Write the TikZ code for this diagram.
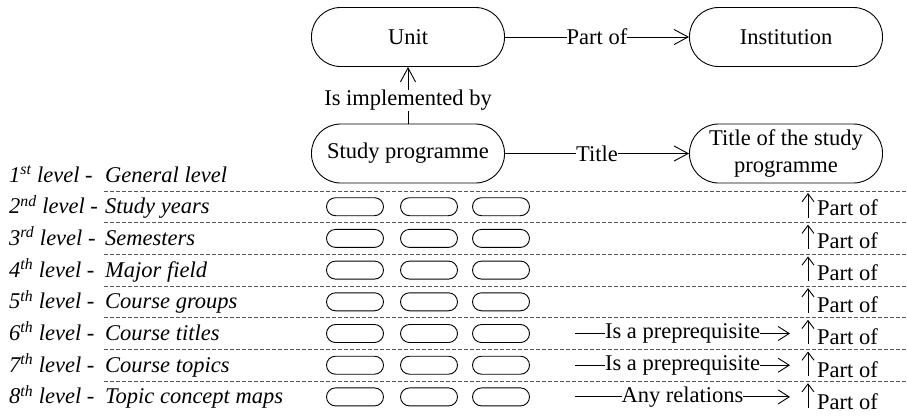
\documentclass[tikz,border=0pt]{standalone}
\usepackage{fontspec}
\setmainfont{Liberation Serif}
\usetikzlibrary{arrows.meta, positioning, calc}
\newcommand{\bigfont}{\fontsize{22.5}{26.5}\selectfont}

\tikzset{
  concept/.style={draw, rectangle, rounded corners=29pt, minimum width=193pt, minimum height=59pt, line width=0.9pt, align=center, inner sep=2pt, font=\bigfont},
  pill/.style={draw, rectangle, rounded corners=9pt, minimum width=57pt, minimum height=18pt, line width=0.9pt},
  rel/.style={line width=0.9pt, -{Straight Barb[length=14pt,width=15pt]}},
  rowrel/.style={line width=0.9pt, -{Straight Barb[length=11pt,width=14pt]}},
  uprel/.style={line width=0.9pt, -{Straight Barb[length=8pt,width=12pt]}},
  rellabel/.style={fill=white, inner sep=0pt, font=\bigfont},
  levelline/.style={dash pattern=on 4pt off 2pt, gray!70!black, line width=0.9pt},
  leveltext/.style={anchor=base west, inner sep=0pt, font=\bigfont\itshape},
  partlabel/.style={anchor=base west, inner sep=0pt, font=\bigfont}
}

\begin{document}
\begin{tikzpicture}[x=1pt, y=-1pt]
  \useasboundingbox (0,0) rectangle (907,416);
  % general level concepts
  \node[concept] (unit) at (408,37) {Unit};
  \node[concept] (inst) at (786,37) {Institution};
  \node[concept] (prog) at (408,153.5) {Study programme};
  \node[concept] (ptitle) at (786,153.5) {Title of the study\\programme};
  \draw[rel] (unit) -- node[rellabel] {Part of} (inst);
  \draw[rel] (prog) -- node[rellabel, pos=0.41] {Is implemented by} (unit);
  \draw[rel] (prog) -- node[rellabel] {Title} (ptitle);

  % level names
  \foreach \r/\sfx/\lname in {1/st/General level, 2/nd/Study years, 3/rd/Semesters, 4/th/Major field, 5/th/Course groups, 6/th/Course titles, 7/th/Course topics, 8/th/Topic concept maps}{
    \pgfmathsetmacro{\yb}{182+31.7*(\r-1)}
    \node[leveltext] (lv\r) at (9,\yb) {\r\textsuperscript{\sfx} level -};
    \node[leveltext] (ln\r) at (105,\yb) {\lname};
  }

  % level separators
  \foreach \r in {1,...,7}{
    \pgfmathsetmacro{\yd}{191+31.7*(\r-1)}
    \coordinate (dl\r) at (104,\yd);
    \coordinate (dr\r) at (907,\yd);
    \draw[levelline] (dl\r) -- (dr\r);
  }

  % concepts of the lower levels
  \foreach \r in {2,...,8}{
    \pgfmathsetmacro{\yc}{182+31.7*(\r-1)-7}
    \foreach \c/\xc in {1/355, 2/429, 3/501}
      \node[pill] (p\r-\c) at (\xc,\yc) {};
    \pgfmathsetmacro{\ya}{191+31.7*(\r-2)}
    \coordinate (pa\r) at (808,\ya+26.5);
    \coordinate (pb\r) at (808,\ya+2);
    \draw[uprel] (pa\r) -- (pb\r);
    \pgfmathsetmacro{\yp}{182+31.7*(\r-1)+2+0.6*(\r-2)}
    \node[partlabel] (po\r) at (817,\yp) {Part of};
  }

  % relations inside a level
  \foreach \r/\rtext in {6/Is a preprequisite, 7/Is a preprequisite, 8/Any relations}{
    \pgfmathsetmacro{\yc}{182+31.7*(\r-1)-7}
    \coordinate (ra\r) at (575,\yc);
    \coordinate (rb\r) at (790,\yc);
    \draw[rowrel] (ra\r) -- node[rellabel] {\rtext} (rb\r);
  }
\end{tikzpicture}
\end{document}
